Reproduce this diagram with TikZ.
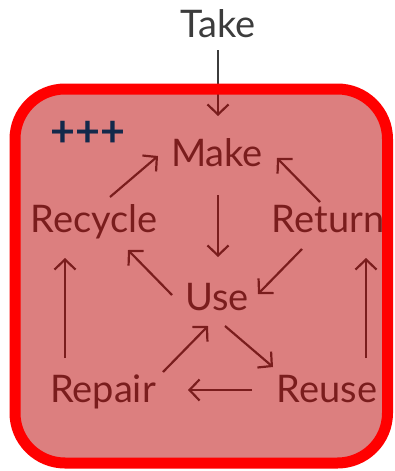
\documentclass[tikz,border=0pt]{standalone}
\usepackage{fontspec}
\setmainfont{Lato}
\usetikzlibrary{arrows.meta}
\definecolor{boxred}{RGB}{255,0,0}
\definecolor{tintred}{RGB}{185,0,0}
\definecolor{inkgray}{RGB}{60,60,60}
\definecolor{navy}{RGB}{19,41,75}
\begin{document}
\begin{tikzpicture}[x=1pt,y=-1pt,
  lbl/.style={font=\fontsize{38}{38}\selectfont, text=inkgray, anchor=base, inner sep=0pt},
  arr/.style={draw=inkgray, line width=2.2pt, -{Straight Barb[length=10pt,width=21pt]}}]
\useasboundingbox (0,0) rectangle (395,471);
% labels
\node[lbl] (take) at (218,37) {Take};
\node[lbl] (make) at (217,166) {Make};
\node[lbl] (recycle) at (94,232) {Recycle};
\node[lbl] (return) at (328,232) {Return};
\node[lbl] (use) at (217,310) {Use};
\node[lbl] (repair) at (103,402) {Repair};
\node[lbl] (reuse) at (327,402) {Reuse};
% connectors
\draw[arr] ([shift={(0,13)}]take.base) -- ([shift={(1,-50)}]make.base);
\draw[arr] ([shift={(16,-35)}]recycle.base) -- ([shift={(-59,-10)}]make.base);
\draw[arr] ([shift={(-8,-30)}]return.base) -- ([shift={(60,-8)}]make.base);
\draw[arr] ([shift={(1,29)}]make.base) -- ([shift={(1,-53)}]use.base);
\draw[arr] ([shift={(-26,17)}]return.base) -- ([shift={(41,-16)}]use.base);
\draw[arr] ([shift={(-45,-15)}]use.base) -- ([shift={(34,18)}]recycle.base);
\draw[arr] ([shift={(60,-30)}]repair.base) -- ([shift={(-9,16)}]use.base);
\draw[arr] ([shift={(8,16)}]use.base) -- ([shift={(-54,-35)}]reuse.base);
\draw[arr] ([shift={(-75,-12)}]reuse.base) -- ([shift={(85,-12)}]repair.base);
\draw[arr] ([shift={(-38,-44)}]repair.base) -- ([shift={(-29,26)}]recycle.base);
\draw[arr] ([shift={(39,-44)}]reuse.base) -- ([shift={(38,26)}]return.base);
% tinted frame
\fill[tintred, fill opacity=0.5, rounded corners=50pt] (15,89) rectangle (387.5,463);
\draw[boxred, line width=11pt, rounded corners=50pt] (15,89) rectangle (387.5,463);
\node[font=\fontsize{43}{43}\selectfont\bfseries, text=navy, inner sep=0pt] (plus) at (88,134) {+++};
\end{tikzpicture}
\end{document}
